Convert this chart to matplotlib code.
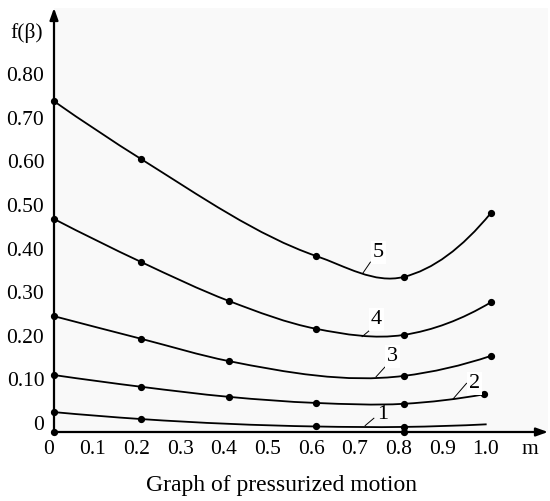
import numpy as np
import matplotlib
matplotlib.use("Agg")
import matplotlib.pyplot as plt
from matplotlib.path import Path
from matplotlib.patches import PathPatch
from matplotlib.transforms import ScaledTranslation

plt.rcParams['font.family'] = ['Liberation Serif', 'DejaVu Serif']

# ---- data ----
curve_names = ["1", "2", "3", "4", "5"]
x1 = [0.0, 0.2, 0.6, 0.8, 0.99]
y1 = [0.025, 0.009, -0.008, -0.009, -0.003]
m1 = [True, True, True, True, False]
x2 = [0.0, 0.2, 0.4, 0.6, 0.8, 0.985]
y2 = [0.110, 0.083, 0.060, 0.046, 0.044, 0.066]
m2 = [True, True, True, True, True, True]
x3 = [0.0, 0.2, 0.4, 0.8, 1.0]
y3 = [0.245, 0.193, 0.142, 0.108, 0.154]
m3 = [True, True, True, True, True]
x4 = [0.0, 0.2, 0.4, 0.6, 0.8, 1.0]
y4 = [0.468, 0.369, 0.280, 0.216, 0.202, 0.277]
m4 = [True, True, True, True, True, True]
x5 = [0.0, 0.2, 0.6, 0.8, 1.0]
y5 = [0.738, 0.605, 0.383, 0.335, 0.482]
m5 = [True, True, True, True, True]
axis_dots_x = [0.0, 0.8]

y_ticks = [0, 0.10, 0.20, 0.30, 0.40, 0.50, 0.60, 0.70, 0.80]
y_tick_labels = ["0", "0.10", "0.20", "0.30", "0.40", "0.50", "0.60", "0.70", "0.80"]
x_ticks = [0, 0.1, 0.2, 0.3, 0.4, 0.5, 0.6, 0.7, 0.8, 0.9, 1.0]
x_tick_labels = ["0", "0.1", "0.2", "0.3", "0.4", "0.5", "0.6", "0.7", "0.8", "0.9", "1.0"]
x_unit = "m"
y_label = "f(β)"
caption = "Graph of pressurized motion"


def smooth_path(xs, ys):
    xs = np.asarray(xs, float)
    ys = np.asarray(ys, float)
    h = np.diff(xs)
    d = np.diff(ys) / h
    n = len(xs)
    m = np.zeros(n)
    for i in range(1, n - 1):
        m[i] = (h[i] * d[i - 1] + h[i - 1] * d[i]) / (h[i - 1] + h[i])
    m[0] = 2 * d[0] - m[1]
    m[-1] = 2 * d[-1] - m[-2]
    verts = [(xs[0], ys[0])]
    codes = [Path.MOVETO]
    for i in range(n - 1):
        hh = h[i]
        verts += [(xs[i] + hh / 3, ys[i] + m[i] * hh / 3),
                  (xs[i + 1] - hh / 3, ys[i + 1] - m[i + 1] * hh / 3),
                  (xs[i + 1], ys[i + 1])]
        codes += [Path.CURVE4] * 3
    return Path(verts, codes)


fig = plt.figure(figsize=(5.5, 5.01), dpi=100, facecolor="white")
ax = fig.add_axes([54 / 550, (501 - 432) / 501, 494 / 550, 424 / 501])
ax.set_facecolor("#f9f9f9")
ax.set_xlim(0, 494 / 437)
y0 = -9 / 436
ax.set_ylim(y0, y0 + 424 / 436)

for xs, ys, mk in [(x1, y1, m1), (x2, y2, m2), (x3, y3, m3), (x4, y4, m4), (x5, y5, m5)]:
    ax.add_patch(PathPatch(smooth_path(xs, ys), fill=False, edgecolor="black", lw=1.3, zorder=3))
    xa = np.asarray(xs)[np.asarray(mk)]
    ya = np.asarray(ys)[np.asarray(mk)]
    ax.plot(xa, ya, "o", color="black", ms=4.2, clip_on=False, zorder=4)

ax.plot(axis_dots_x, [y0] * len(axis_dots_x), "o", color="black", ms=4.2, clip_on=False, zorder=5)

# curve number labels with leader lines
label_pos = {"5": (0.742, 0.392), "4": (0.737, 0.238), "3": (0.775, 0.152),
             "2": (0.963, 0.090), "1": (0.752, 0.020)}
leaders = {"5": ((0.707, 0.344), (0.724, 0.369)), "4": ((0.705, 0.198), (0.724, 0.214)),
           "3": ((0.737, 0.106), (0.757, 0.128)), "2": ((0.913, 0.055), (0.944, 0.091)),
           "1": ((0.712, -0.006), (0.732, 0.011))}
for name in curve_names:
    (xa, ya), (xb, yb) = leaders[name]
    ax.plot([xa, xb], [ya, yb], color="black", lw=0.7, zorder=3)
    lx, ly = label_pos[name]
    box = None if name == "1" else dict(facecolor="white", edgecolor="none", pad=1.5)
    ax.text(lx, ly, name, fontsize=16, ha="center", va="center", zorder=6, bbox=box)

for s in ax.spines.values():
    s.set_visible(False)
ax.annotate("", xy=(0, 1), xytext=(0, 0), xycoords="axes fraction",
            arrowprops=dict(arrowstyle="-|>,head_length=0.7,head_width=0.25", color="black", lw=1.6,
                            shrinkA=0, shrinkB=0))
ax.annotate("", xy=(1, 0), xytext=(0, 0), xycoords="axes fraction",
            arrowprops=dict(arrowstyle="-|>,head_length=0.7,head_width=0.25", color="black", lw=1.6,
                            shrinkA=0, shrinkB=0))

ax.set_yticks(y_ticks)
ax.set_yticklabels(y_tick_labels, fontsize=15.5)
ax.set_xticks(x_ticks)
ax.set_xticklabels(x_tick_labels, fontsize=15.5)
ax.tick_params(axis="both", length=0)
ax.tick_params(axis="y", pad=7)
ax.tick_params(axis="x", pad=6)
for lab in ax.get_xticklabels():
    lab.set_transform(lab.get_transform() + ScaledTranslation(-5 / 100, 0, fig.dpi_scale_trans))

ax.text(1.089, y0, x_unit, fontsize=15.5, ha="center", va="top",
        transform=ax.transData + ScaledTranslation(0, -8 / 100, fig.dpi_scale_trans))
fig.text(27 / 550, 1 - 33 / 501, y_label, fontsize=15.5, ha="center", va="center")
fig.text(282 / 550, 1 - 485 / 501, caption, fontsize=17, ha="center", va="center")

fig.savefig("out.png", dpi=100, facecolor="white")
